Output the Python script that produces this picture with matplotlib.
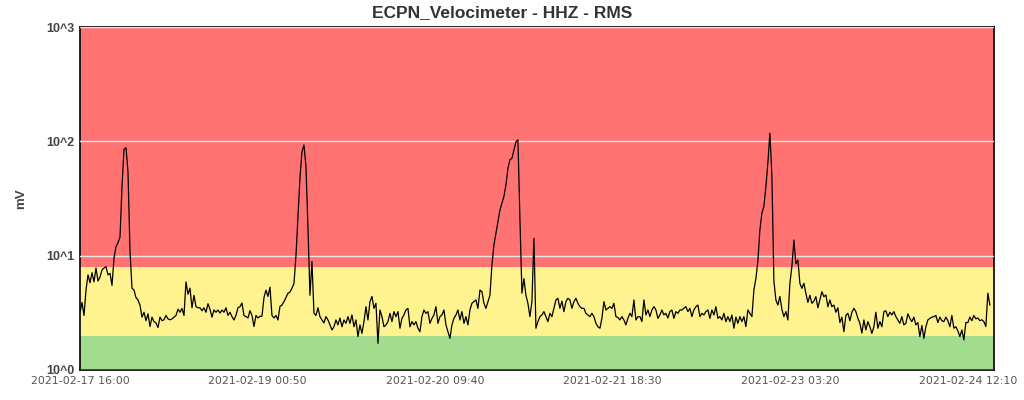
import matplotlib
matplotlib.use("Agg")
import matplotlib.pyplot as plt
import matplotlib.dates as mdates
from matplotlib.ticker import FixedLocator, NullLocator
import pandas as pd

title = "ECPN_Velocimeter - HHZ - RMS"
y_label = "mV"
data_start = "2021-02-17 16:00"
data_end = "2021-02-24 16:14"
x_min = "2021-02-17 16:00"
x_max = "2021-02-24 17:00"
tick_times = ["2021-02-17 16:00", "2021-02-19 00:50", "2021-02-20 09:40",
              "2021-02-21 18:30", "2021-02-23 03:20", "2021-02-24 12:10"]
y_ticks = [1, 10, 100, 1000]
y_tick_labels = ["10^0", "10^1", "10^2", "10^3"]
band_green = (1, 2)
band_yellow = (2, 8)
band_red = (8, 1000)

rms_1 = [3.2, 3.9, 3.0, 5.0, 6.8, 5.8, 7.1, 5.9, 7.8, 6.0,
         6.5, 7.5, 7.8, 8.0, 6.8, 7.0, 5.5, 9.5, 12.0, 13.0,
         14.5, 40, 85, 88, 54, 11, 5.2, 5.0, 4.3, 4.1,
         3.7, 2.9, 3.2, 2.7, 3.1, 2.4, 2.9, 2.65, 2.58, 2.35,
         2.9, 2.7, 2.75, 3.0, 2.8, 2.75, 2.8, 2.9, 3.0, 3.4,
         3.2, 3.45, 3.0, 5.9, 4.6, 5.2, 3.5, 4.5, 3.6, 3.5,
         3.5, 3.3, 3.5, 3.2, 3.8, 3.4, 2.9]
rms_2 = [3.35, 3.2, 3.35, 3.15, 3.35, 3.2, 3.5, 3.0, 3.2, 2.93,
         2.74, 3.0, 3.5, 3.58, 3.85, 3.0, 2.93, 2.85, 3.3, 3.0,
         2.4, 3.0, 2.85, 2.95, 2.95, 4.3, 5.0, 4.4, 5.3, 3.0,
         2.85, 3.0, 2.74, 3.6, 3.7, 3.96, 4.3, 4.7, 4.8, 5.2,
         5.7, 10, 22, 48, 81, 93, 60, 17.5, 4.5, 8.9,
         3.15, 3.0, 3.5, 2.93, 2.74, 2.58, 2.93, 2.74, 2.48, 2.24,
         2.39, 2.74, 2.48, 2.85, 2.39, 2.74]
rms_3 = [2.56, 2.93, 2.56, 3.03, 2.39, 2.74, 1.96, 2.48, 2.09, 2.65,
         3.58, 2.74, 3.96, 4.4, 3.46, 3.83, 1.71, 3.35, 2.93, 2.39,
         2.48, 2.65, 3.13, 2.65, 3.24, 2.93, 3.24, 2.32, 2.83, 3.03,
         3.35, 3.46, 2.39, 2.65, 2.48, 2.65, 2.32, 2.16, 2.93, 3.35,
         3.13, 3.24, 2.56, 2.83, 3.03, 3.58, 2.56, 2.93, 3.03, 3.35,
         2.48, 2.16, 1.89, 2.48, 2.83, 3.03, 3.35, 2.74, 3.24, 2.56,
         2.93, 2.48, 3.35, 3.83, 3.96]
rms_4 = [4.1, 3.46, 5.0, 4.84, 3.83, 3.46, 3.96, 4.5, 8.3, 12.4,
         15.7, 19.9, 25.1, 28.7, 33, 41.5, 58, 69, 71, 84,
         99, 103, 21, 4.7, 6.3, 4.5, 3.83, 2.93, 3.96, 14.2,
         2.32, 2.65, 2.93, 3.03, 3.24, 2.93, 2.65, 3.13, 2.93, 3.46,
         4.1, 4.24, 3.46, 4.0, 3.24, 3.96, 4.24, 4.1, 3.46, 3.96,
         4.24, 3.83, 3.58, 3.46, 3.46, 3.13, 3.03, 2.93, 3.13, 2.93,
         2.56, 2.39, 2.32, 2.83, 3.96]
rms_5 = [3.35, 3.46, 3.58, 3.46, 3.83, 2.93, 2.88, 2.74, 2.93, 2.74,
         2.48, 2.83, 3.13, 2.93, 4.1, 2.74, 2.93, 2.93, 2.65, 4.1,
         3.03, 3.35, 2.93, 3.35, 3.58, 3.35, 2.83, 3.03, 3.35, 3.03,
         3.13, 2.85, 3.24, 3.35, 2.83, 3.24, 3.13, 3.35, 3.35, 3.46,
         3.58, 3.24, 3.46, 2.93, 3.35, 3.58, 3.70, 2.93, 3.13, 3.03,
         3.24, 3.35, 2.83, 3.35, 3.03, 3.58, 2.83, 2.93, 2.74, 3.13,
         2.65, 2.93, 2.65, 3.03, 2.32]
rms_6 = [2.9, 2.56, 2.93, 2.65, 2.93, 2.4, 3.35, 3.13, 2.93, 5.0,
         6.3, 9.0, 16.8, 23.5, 27, 40, 65, 118, 50, 6.0,
         4.1, 3.7, 4.4, 3.4, 2.93, 3.24, 2.74, 5.73, 8.0, 13.7,
         8.5, 9.17, 5.73, 5.18, 5.73, 4.69, 3.9, 4.5, 3.83, 4.0,
         4.38, 3.5, 4.1, 4.84, 4.38, 4.53, 3.58, 4.1, 3.58, 3.7,
         3.2, 3.5, 2.6, 2.9, 2.16, 3.0, 3.13, 2.7, 3.2, 3.46,
         3.24, 2.83, 2.56, 2.1, 2.74]
rms_7 = [2.24, 2.65, 2.39, 2.09, 2.39, 3.2, 2.32, 2.65, 2.39, 3.24,
         3.3, 2.93, 3.2, 3.03, 3.24, 2.93, 2.74, 2.56, 2.93, 2.48,
         2.56, 3.1, 2.83, 2.65, 2.9, 2.48, 2.6, 1.96, 2.45, 1.89,
         2.39, 2.74, 2.83, 2.9, 2.93, 3.0, 2.6, 2.9, 2.7, 2.65,
         2.9, 2.7, 2.39, 3.0, 2.32, 2.39, 2.2, 1.96, 2.24, 1.83,
         2.6, 2.6, 2.9, 2.7, 3.0, 2.8, 2.85, 2.7, 2.75, 2.65,
         2.4, 4.7, 3.7]

rms = rms_1 + rms_2 + rms_3 + rms_4 + rms_5 + rms_6 + rms_7
times = pd.date_range(data_start, data_end, periods=len(rms))

fig = plt.figure(figsize=(10.24, 4.0), dpi=100)
ax = fig.add_axes([80 / 1024, 30 / 400, 914 / 1024, 343 / 400])

ax.set_yscale("log")
ax.axhspan(*band_green, color="#a3db8f", lw=0, zorder=0)
ax.axhspan(*band_yellow, color="#fff38f", lw=0, zorder=0)
ax.axhspan(*band_red, color="#ff7373", lw=0, zorder=0)

ax.plot(times, rms, color="black", lw=0.9, zorder=3)

ax.set_ylim(1, 1000)
ax.set_xlim(pd.Timestamp(x_min), pd.Timestamp(x_max))
ax.yaxis.set_major_locator(FixedLocator(y_ticks))
ax.yaxis.set_minor_locator(NullLocator())
ax.set_yticklabels(y_tick_labels, fontfamily="Liberation Sans",
                   fontweight="bold", fontsize=9, color="#444444")
ax.grid(axis="y", which="major", color="#e6e6e6", lw=1, zorder=1)
ax.set_axisbelow(False)

ticks = [mdates.date2num(pd.Timestamp(t)) for t in tick_times]
ax.set_xticks(ticks)
ax.set_xticklabels(tick_times, fontsize=7.9, color="#555555",
                   fontfamily="DejaVu Sans")
ax.tick_params(axis="both", length=0, pad=4)
ax.xaxis.set_minor_locator(NullLocator())

for s in ax.spines.values():
    s.set_color("black")
    s.set_linewidth(1.2)

ax.set_ylabel(y_label, fontfamily="Liberation Sans", fontweight="bold",
              fontsize=9.5, color="#444444", labelpad=14)
fig.text(0.49, 0.968, title, ha="center", va="center",
         fontfamily="Liberation Sans", fontweight="bold", fontsize=12.5,
         color="#333333")

fig.savefig("out.png", dpi=100)
